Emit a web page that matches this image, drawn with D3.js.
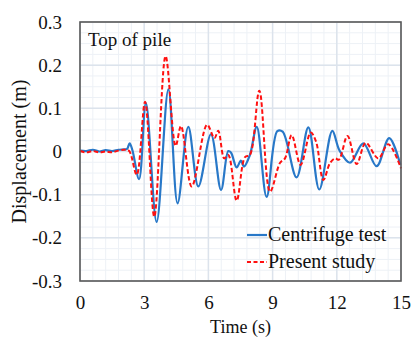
<!DOCTYPE html>
<html>
<head>
<meta charset="utf-8">
<script src="https://cdn.jsdelivr.net/npm/d3@7"></script>
<style>
  body { margin: 0; background: #fff; }
</style>
</head>
<body>
<svg id="render" width="414" height="338"></svg>
<script>
// centrifuge test (blue) - time (s), displacement (m)
const testTime = [0, 0.3, 0.6, 0.9, 1.2, 1.5, 1.8, 2.05, 2.2, 2.32, 2.45, 2.76, 3.08, 3.58, 4.13, 4.56, 5.06, 5.53, 6.12, 6.59, 6.93, 7.06, 7.32, 7.52, 7.66, 7.94, 8.26, 8.72, 9.22, 9.47, 10.12, 10.67, 11.18, 11.79, 12.12, 12.62, 13.24, 13.86, 14.45, 14.97];
const testDisp = [0.002, 0.001, 0.004, 0.000, 0.003, 0.001, 0.004, 0.005, 0.006, 0.019, 0.003, -0.064, 0.112, -0.163, 0.144, -0.120, 0.057, -0.081, 0.040, -0.089, 0.001, -0.003, -0.037, -0.021, -0.035, -0.008, 0.057, -0.105, 0.047, 0.046, -0.060, 0.056, -0.088, 0.048, 0.003, -0.026, 0.019, -0.034, 0.031, -0.031];

// present study (red dashed)
const studyTime = [0, 0.3, 0.6, 0.9, 1.2, 1.5, 1.8, 2.1, 2.3, 2.65, 3.04, 3.47, 4.0, 4.47, 4.72, 5.22, 5.94, 6.28, 6.46, 6.74, 6.93, 7.32, 7.71, 7.94, 8.38, 8.88, 9.35, 9.58, 9.89, 10.31, 10.78, 11.03, 11.37, 11.68, 11.92, 12.1, 12.5, 12.93, 13.35, 13.94, 14.4, 15.0];
const studyDisp = [0.001, -0.002, 0.001, -0.002, 0.000, -0.002, 0.002, 0.004, 0.001, -0.054, 0.115, -0.151, 0.221, 0.013, 0.059, -0.081, 0.062, 0.031, 0.048, -0.016, -0.008, -0.114, -0.013, -0.008, 0.141, -0.093, -0.026, -0.016, 0.038, -0.031, 0.044, 0.023, -0.066, -0.027, -0.016, -0.019, 0.036, -0.029, 0.020, -0.016, 0.017, -0.039];

const xTicks = [0, 3, 6, 9, 12, 15];
const yTicks = [-0.3, -0.2, -0.1, 0, 0.1, 0.2, 0.3];
const yTickLabels = ["-0.3", "-0.2", "-0.1", "0", "0.1", "0.2", "0.3"];
const seriesNames = ["Centrifuge test", "Present study"];

const serif = "'Liberation Serif', 'Times New Roman', serif";
const svg = d3.select("svg#render");
const plotLeft = 80, plotRight = 401, plotTop = 22, plotBottom = 281;

const x = d3.scaleLinear().domain([0, 15]).range([plotLeft, plotRight]);
const y = d3.scaleLinear().domain([-0.3, 0.3]).range([plotBottom, plotTop]);

// grid: minor then major
const grid = svg.append("g");
grid.selectAll(".vminor")
    .data(d3.range(0, 15.001, 0.6))
    .enter()
    .append("line")
    .attr("x1", d => x(d)).attr("x2", d => x(d))
    .attr("y1", plotTop).attr("y2", plotBottom)
    .attr("stroke", "#edf1f6").attr("stroke-width", 1);
grid.selectAll(".hminor")
    .data(d3.range(-0.3, 0.3001, 0.025))
    .enter()
    .append("line")
    .attr("x1", plotLeft).attr("x2", plotRight)
    .attr("y1", d => y(d)).attr("y2", d => y(d))
    .attr("stroke", "#edf1f6").attr("stroke-width", 1);
grid.selectAll(".vmajor")
    .data(xTicks)
    .enter()
    .append("line")
    .attr("x1", d => x(d)).attr("x2", d => x(d))
    .attr("y1", plotTop).attr("y2", plotBottom)
    .attr("stroke", "#dce3ec").attr("stroke-width", 1.5);
grid.selectAll(".hmajor")
    .data(yTicks)
    .enter()
    .append("line")
    .attr("x1", plotLeft).attr("x2", plotRight)
    .attr("y1", d => y(d)).attr("y2", d => y(d))
    .attr("stroke", "#dce3ec").attr("stroke-width", 1.5);

// lines
const line = d3.line()
    .x(d => x(d[0]))
    .y(d => y(d[1]))
    .curve(d3.curveCatmullRom.alpha(0.5));

const plot = svg.append("g");
plot.append("path")
    .datum(testTime.map((t, i) => [t, testDisp[i]]))
    .attr("d", line)
    .attr("fill", "none")
    .attr("stroke", "#2878c8")
    .attr("stroke-width", 2.2);
plot.append("path")
    .datum(studyTime.map((t, i) => [t, studyDisp[i]]))
    .attr("d", line)
    .attr("fill", "none")
    .attr("stroke", "#ff1010")
    .attr("stroke-width", 2)
    .attr("stroke-dasharray", "4.5,2.5");

// frame
svg.append("rect")
    .attr("x", plotLeft).attr("y", plotTop)
    .attr("width", plotRight - plotLeft).attr("height", plotBottom - plotTop)
    .attr("fill", "none")
    .attr("stroke", "#595959")
    .attr("stroke-width", 1.6);

// axes
const xAxis = svg.append("g")
    .attr("transform", `translate(0,${plotBottom})`)
    .call(d3.axisBottom(x).tickValues(xTicks).tickSize(0).tickPadding(15).tickFormat(d3.format("d")));
xAxis.select(".domain").remove();
xAxis.attr("font-family", serif).attr("font-size", 19);
xAxis.selectAll("text").style("fill", "#111");

const yAxis = svg.append("g")
    .attr("transform", `translate(${plotLeft},0)`)
    .call(d3.axisLeft(y).tickValues(yTicks).tickSize(0).tickPadding(18).tickFormat((d, i) => yTickLabels[i]));
yAxis.select(".domain").remove();
yAxis.attr("font-family", serif).attr("font-size", 19);
yAxis.selectAll("text").style("fill", "#111");

// titles
svg.append("text")
    .attr("x", (plotLeft + plotRight) / 2)
    .attr("y", 333)
    .attr("text-anchor", "middle")
    .attr("font-family", serif)
    .attr("font-size", 18)
    .attr("fill", "#111")
    .text("Time (s)");

svg.append("text")
    .attr("transform", `translate(26,${(plotTop + plotBottom) / 2}) rotate(-90)`)
    .attr("text-anchor", "middle")
    .attr("font-family", serif)
    .attr("font-size", 20)
    .attr("fill", "#111")
    .text("Displacement (m)");

svg.append("text")
    .attr("x", 88)
    .attr("y", 46)
    .attr("font-family", serif)
    .attr("font-size", 19)
    .attr("fill", "#111")
    .text("Top of pile");

// legend
const legend = svg.append("g");
const legendStyles = [
    {color: "#2878c8", dash: null, width: 2.2},
    {color: "#ff1010", dash: "4,2.5", width: 2}
];
seriesNames.forEach((name, i) => {
    const ly = 235 + i * 27;
    legend.append("line")
        .attr("x1", 247).attr("x2", 267)
        .attr("y1", ly).attr("y2", ly)
        .attr("stroke", legendStyles[i].color)
        .attr("stroke-width", legendStyles[i].width)
        .attr("stroke-dasharray", legendStyles[i].dash);
    legend.append("text")
        .attr("x", 268)
        .attr("y", ly + 6)
        .attr("font-family", serif)
        .attr("font-size", 20)
        .attr("fill", "#111")
        .text(name);
});
</script>
</body>
</html>
